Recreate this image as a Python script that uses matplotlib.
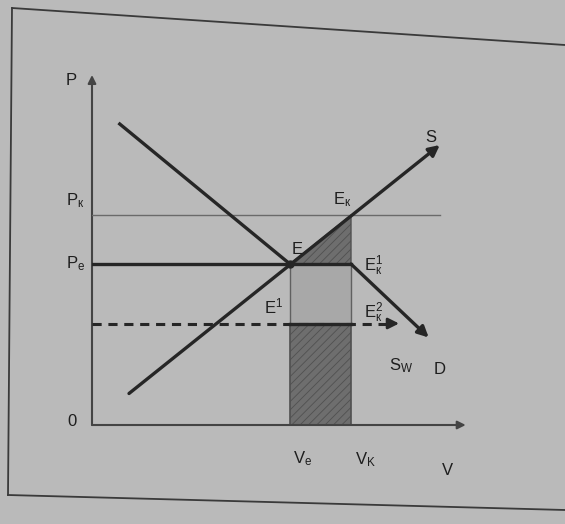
import matplotlib.pyplot as plt
from matplotlib.lines import Line2D
from matplotlib.patches import Polygon, Rectangle

plt.rcParams['font.family'] = ['Liberation Sans', 'DejaVu Sans']
plt.rcParams['mathtext.fontset'] = 'custom'
plt.rcParams['mathtext.rm'] = 'Liberation Sans'
plt.rcParams['mathtext.it'] = 'Liberation Sans'
plt.rcParams['hatch.linewidth'] = 0.6

# prices and quantities
p_e = 4.6      # equilibrium price
p_k = 6.0      # controlled price
p_w = 2.9      # world supply price
v_e = 5.35     # equilibrium volume
v_k = 7.0      # volume at controlled price

supply_v = [1.0, 9.4]
supply_p = [0.9, 8.0]
demand_v = [0.75, 5.35, 7.0, 9.1]
demand_p = [8.6, 4.6, 4.6, 2.5]
sw_end = 8.3

bg = '#bababa'
ink = '#262626'

fig = plt.figure(figsize=(5.65, 5.24), dpi=100, facecolor=bg)
ax = fig.add_axes([92 / 565, 99 / 524, 370 / 565, 350 / 524])
ax.set_xlim(0, 10)
ax.set_ylim(0, 10)
ax.set_facecolor(bg)
ax.patch.set_alpha(0)
ax.axis('off')

# page frame
for xs, ys in [([12, 565], [516, 479]), ([12, 8], [516, 29]), ([8, 565], [29, 14])]:
    fig.add_artist(Line2D([x / 565 for x in xs], [y / 524 for y in ys],
                          transform=fig.transFigure, color='#3a3a3a', lw=1.3))

# shaded areas
ax.add_patch(Rectangle((v_e, 0), v_k - v_e, p_w, facecolor='#6e6e6e',
                       edgecolor='#505050', hatch='////', lw=1.2, zorder=2))
ax.add_patch(Rectangle((v_e, p_w), v_k - v_e, p_e - p_w, facecolor='#a8a8a8',
                       edgecolor='#606060', lw=1.0, zorder=2))
ax.add_patch(Polygon([(v_e, p_e), (v_k, p_k), (v_k, p_e)], closed=True,
                     facecolor='#6e6e6e', edgecolor='#505050', hatch='////',
                     lw=1.0, zorder=2))

# axes with arrows
ax.annotate('', xy=(0, 10.0), xytext=(0, 0), annotation_clip=False,
            arrowprops=dict(arrowstyle='-|>', color='#444444', lw=1.5,
                            mutation_scale=12, shrinkA=0, shrinkB=0))
ax.annotate('', xy=(10.1, 0), xytext=(0, 0), annotation_clip=False,
            arrowprops=dict(arrowstyle='-|>', color='#444444', lw=1.5,
                            mutation_scale=12, shrinkA=0, shrinkB=0))

# controlled price line
ax.plot([0, 9.4], [p_k, p_k], color='#6a6a6a', lw=1.0, zorder=3)
# equilibrium price line
ax.plot([0, v_k], [p_e, p_e], color=ink, lw=2.4, zorder=4)

# supply S
ax.annotate('', xy=(supply_v[1], supply_p[1]), xytext=(supply_v[0], supply_p[0]),
            arrowprops=dict(arrowstyle='-|>', color=ink, lw=2.4,
                            mutation_scale=16, shrinkA=0, shrinkB=0), zorder=5)
# demand D
ax.plot(demand_v[:2], demand_p[:2], color=ink, lw=2.4, zorder=5)
ax.annotate('', xy=(demand_v[3], demand_p[3]), xytext=(demand_v[2], demand_p[2]),
            arrowprops=dict(arrowstyle='-|>', color=ink, lw=2.4,
                            mutation_scale=16, shrinkA=0, shrinkB=0), zorder=5)

# world supply Sw
ax.plot([0, sw_end - 0.2], [p_w, p_w], color=ink, lw=2.2, ls=(0, (3, 2.2)), zorder=5)
ax.plot([v_e, v_k], [p_w, p_w], color=ink, lw=2.4, zorder=5)
ax.annotate('', xy=(sw_end, p_w), xytext=(sw_end - 0.3, p_w),
            arrowprops=dict(arrowstyle='-|>', color=ink, lw=2.0,
                            mutation_scale=16, shrinkA=0, shrinkB=0), zorder=5)

ax.plot([v_e], [p_e], 'o', color=ink, ms=5, zorder=6)

# labels
fs = 12
labels = [
    (-0.55, 9.85, 'P'),
    (-0.45, 6.4, r'P$_{\mathregular{к}}$'),
    (-0.45, 4.6, r'P$_{\mathregular{e}}$'),
    (-0.55, 0.1, '0'),
    (5.55, 5.0, 'E'),
    (6.75, 6.45, r'E$_{\mathregular{к}}$'),
    (7.6, 4.55, r'E$_{\mathregular{к}}^{\mathregular{1}}$'),
    (4.9, 3.4, r'E$^{\mathregular{1}}$'),
    (7.6, 3.2, r'E$_{\mathregular{к}}^{\mathregular{2}}$'),
    (9.15, 8.2, 'S'),
    (8.35, 1.7, r'S$_{\mathregular{W}}$'),
    (9.4, 1.6, 'D'),
    (5.7, -0.95, r'V$_{\mathregular{e}}$'),
    (7.4, -1.0, r'V$_{\mathregular{K}}$'),
    (9.6, -1.3, 'V'),
]
for x, y, s in labels:
    ax.text(x, y, s, fontsize=fs, color='#1e1e1e', ha='center', va='center',
            clip_on=False, zorder=7)

fig.savefig('out.png', dpi=100, facecolor=bg)
